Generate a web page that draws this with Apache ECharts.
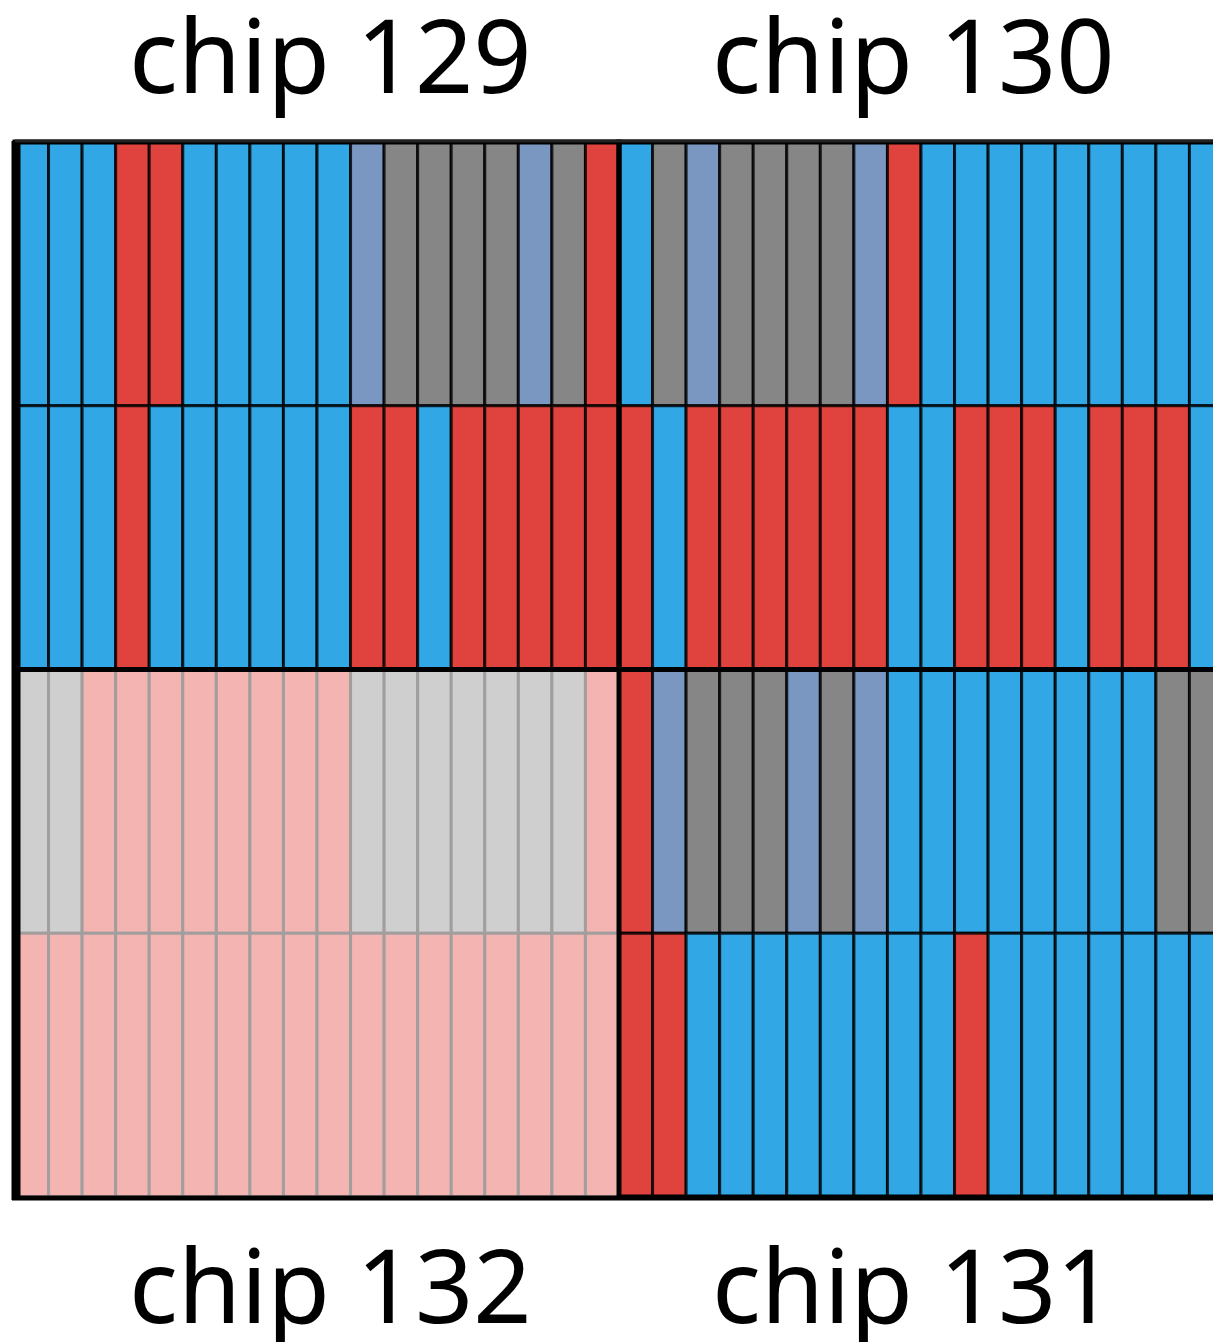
<!DOCTYPE html>
<html>
<head>
<meta charset="utf-8">
<script src="https://cdn.jsdelivr.net/npm/echarts@6/dist/echarts.min.js"></script>
<style>
html,body{margin:0;padding:0;background:#fff;}
#chart{width:1213px;height:1342px;}
</style>
</head>
<body>
<div id="chart"></div>
<script>
// Cell states: B = blue, R = red, G = gray, S = steel blue
const chipNames = ['chip 129', 'chip 130', 'chip 131', 'chip 132'];
const chip129Top    = ['B','B','B','R','R','B','B','B','B','B','S','G','G','G','G','S','G','R'];
const chip129Bottom = ['B','B','B','R','B','B','B','B','B','B','R','R','B','R','R','R','R','R'];
const chip130Top    = ['B','G','S','G','G','G','G','S','R','B','B','B','B','B','B','B','B','B'];
const chip130Bottom = ['R','B','R','R','R','R','R','R','B','B','R','R','R','B','R','R','R','B'];
const chip132Top    = ['G','G','R','R','R','R','R','R','R','R','G','G','G','G','G','G','G','R'];
const chip132Bottom = ['R','R','R','R','R','R','R','R','R','R','R','R','R','R','R','R','R','R'];
const chip131Top    = ['R','S','G','G','G','S','G','S','B','B','B','B','B','B','B','B','G','G'];
const chip131Bottom = ['R','R','B','B','B','B','B','B','B','B','R','B','B','B','B','B','B','B'];
const chipFaded = { 'chip 129': false, 'chip 130': false, 'chip 131': false, 'chip 132': true };

const stateColors = { B: '#31A7E5', R: '#E0433E', G: '#868686', S: '#7A97C1' };
const stateCodes = ['B', 'R', 'G', 'S'];

// layout of chips on the 36 x 4 cell grid
const chipRows = {
  'chip 129': [chip129Top, chip129Bottom],
  'chip 130': [chip130Top, chip130Bottom],
  'chip 131': [chip131Top, chip131Bottom],
  'chip 132': [chip132Top, chip132Bottom]
};
const chipOrigin = { 'chip 129': [0, 0], 'chip 130': [18, 0], 'chip 131': [18, 2], 'chip 132': [0, 2] };

const cellData = [];
const frameData = [];
chipNames.forEach(function (name) {
  const o = chipOrigin[name];
  const rows = chipRows[name];
  const faded = chipFaded[name] ? 1 : 0;
  rows.forEach(function (row, r) {
    row.forEach(function (code, c) {
      cellData.push([o[0] + c, o[1] + r, stateCodes.indexOf(code), faded]);
    });
  });
  frameData.push([o[0], o[1], o[0] + rows[0].length, o[1] + rows.length, faded]);
});
// faded chip frame drawn first so neighbours overlay it
frameData.sort(function (a, b) { return b[4] - a[4]; });

const chart = echarts.init(document.getElementById('chart'), null, { renderer: 'canvas' });

const titleFont = '102px "Noto Sans"';
const option = {
  backgroundColor: '#ffffff',
  animation: false,
  grid: { left: 15, top: 142, width: 1208, height: 1055, outerBoundsMode: 'none', containLabel: false },
  xAxis: { type: 'value', min: 0, max: 36, show: false },
  yAxis: { type: 'value', min: 0, max: 4, inverse: true, show: false },
  graphic: [
    { type: 'text', left: 129, top: 13, style: { text: chipNames[0], font: titleFont, fill: '#000' } },
    { type: 'text', left: 712, top: 13, style: { text: chipNames[1], font: titleFont, fill: '#000' } },
    { type: 'text', left: 129, top: 1243, style: { text: chipNames[3], font: titleFont, fill: '#000' } },
    { type: 'text', left: 712, top: 1243, style: { text: chipNames[2], font: titleFont, fill: '#000' } }
  ],
  series: [
    {
      type: 'custom',
      data: cellData,
      silent: true,
      clip: false,
      renderItem: function (params, api) {
        const c = api.value(0), r = api.value(1);
        const code = stateCodes[api.value(2)];
        const faded = api.value(3) === 1;
        const a = api.coord([c, r]);
        const b = api.coord([c + 1, r + 1]);
        return {
          type: 'rect',
          shape: { x: a[0], y: a[1], width: b[0] - a[0], height: b[1] - a[1] },
          style: {
            fill: faded ? echarts.color.lerp(0.4, ['#ffffff', stateColors[code]]) : stateColors[code],
            stroke: faded ? '#a39e9e' : 'rgba(0,0,0,0.8)',
            lineWidth: 3
          }
        };
      }
    },
    {
      type: 'custom',
      data: frameData,
      silent: true,
      clip: false,
      z: 3,
      renderItem: function (params, api) {
        const a = api.coord([api.value(0), api.value(1)]);
        const b = api.coord([api.value(2), api.value(3)]);
        const faded = api.value(4) === 1;
        return {
          type: 'rect',
          shape: { x: a[0], y: a[1], width: b[0] - a[0], height: b[1] - a[1] },
          style: {
            fill: 'none',
            stroke: faded ? '#999999' : '#000000',
            lineWidth: faded ? 3 : 5
          }
        };
      }
    },
    {
      type: 'custom',
      data: [[0, 0, 36, 4]],
      silent: true,
      clip: false,
      z: 4,
      renderItem: function (params, api) {
        const a = api.coord([api.value(0), api.value(1)]);
        const b = api.coord([api.value(2), api.value(3)]);
        return {
          type: 'group',
          children: [
            { type: 'line', shape: { x1: a[0] + 1, y1: a[1] - 1, x2: a[0] + 1, y2: b[1] + 3 }, style: { stroke: '#000', lineWidth: 9 } },
            { type: 'line', shape: { x1: a[0] - 3, y1: b[1] + 1, x2: b[0], y2: b[1] + 1 }, style: { stroke: '#000', lineWidth: 5 } },
            { type: 'line', shape: { x1: a[0], y1: a[1] - 1, x2: b[0], y2: a[1] - 1 }, style: { stroke: '#222', lineWidth: 3 } }
          ]
        };
      }
    }
  ]
};
chart.setOption(option);
</script>
</body>
</html>
